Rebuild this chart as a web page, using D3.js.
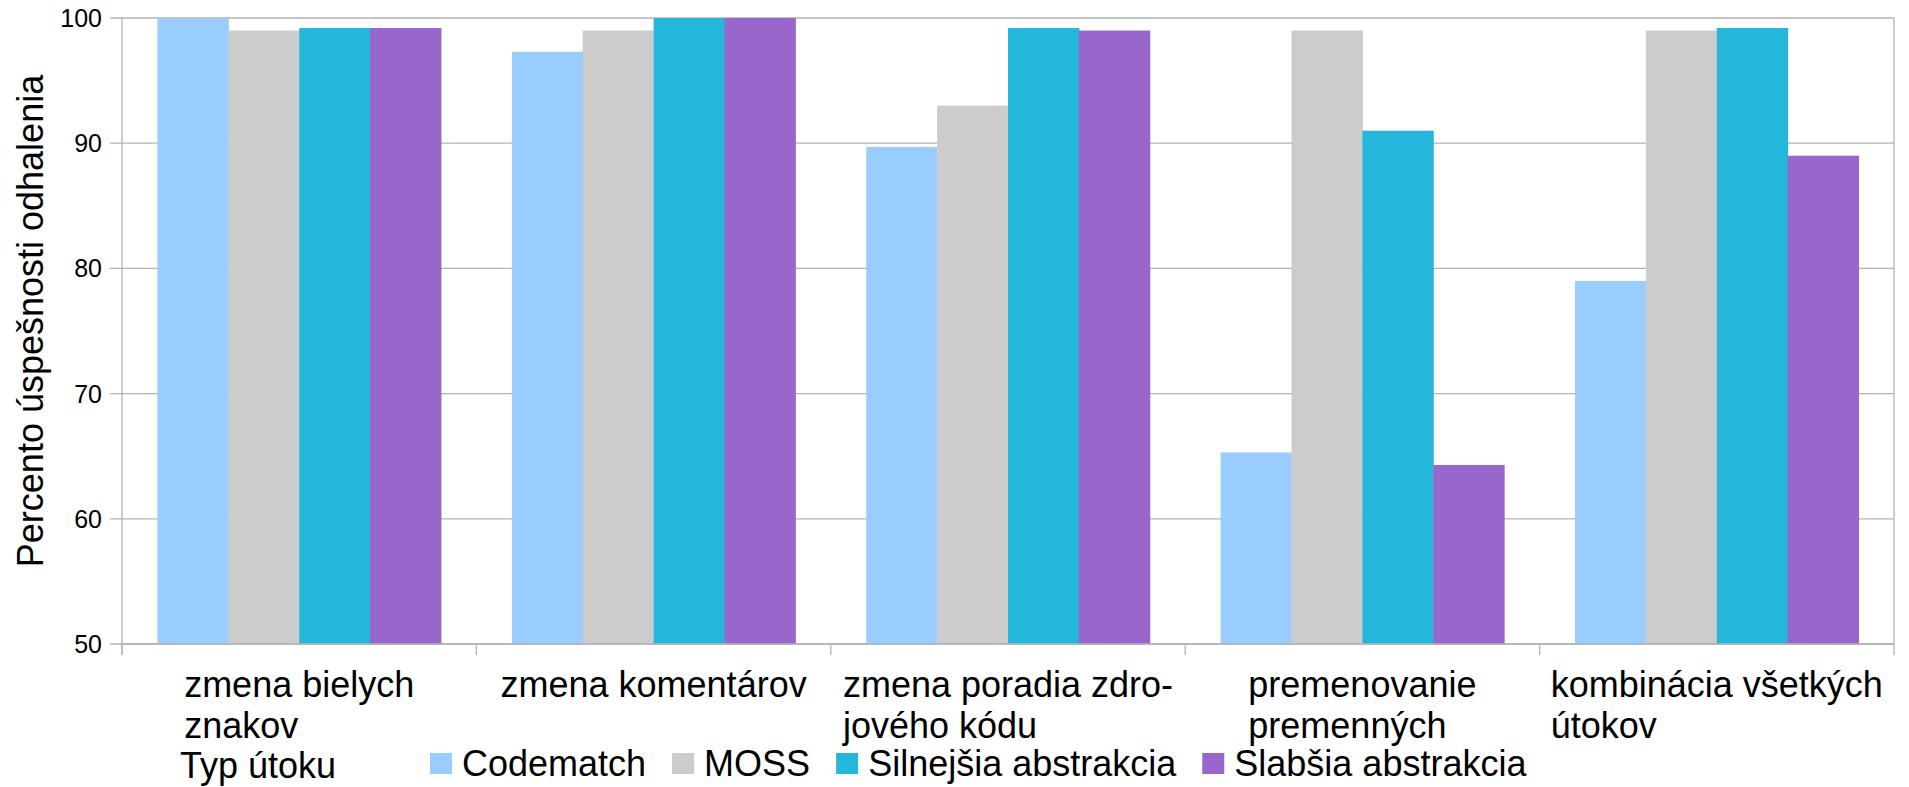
<!DOCTYPE html>
<html>
<head>
<meta charset="utf-8">
<script src="https://cdn.jsdelivr.net/npm/d3@7"></script>
<style>
  body { margin: 0; background: #fff; }
  text { font-family: "Liberation Sans", Arial, sans-serif; fill: #000; }
</style>
</head>
<body>
<svg id="chart"></svg>
<script>
// categories (each label split into its display lines)
var categories = [
  ["zmena bielych", "znakov"],
  ["zmena komentárov"],
  ["zmena poradia zdro-", "jového kódu"],
  ["premenovanie", "premenných"],
  ["kombinácia všetkých", "útokov"]
];
var seriesNames = ["Codematch", "MOSS", "Silnejšia abstrakcia", "Slabšia abstrakcia"];
var codematch = [100, 97.3, 89.7, 65.3, 79.0];
var moss      = [99.0, 99.0, 93.0, 99.0, 99.0];
var silnejsia = [99.2, 100, 99.2, 91.0, 99.2];
var slabsia   = [99.2, 100, 99.0, 64.3, 89.0];
var colors = ["#99ccff", "#cccccc", "#25b6dc", "#9966cc"];
var yTicks = [50, 60, 70, 80, 90, 100];

var width = 1909, height = 787;
var plotLeft = 122, plotRight = 1894, plotTop = 18, plotBottom = 644;
var gridColor = "#b3b3b3";

var svg = d3.select("#chart").attr("width", width).attr("height", height);

var series = [codematch, moss, silnejsia, slabsia];
var keys = categories.map(function(d, i) { return i; });

var x = d3.scaleBand().domain(keys).range([plotLeft, plotRight]).paddingInner(0.2).paddingOuter(0.1);
var xSub = d3.scaleBand().domain(d3.range(series.length)).range([0, x.bandwidth()]);
var y = d3.scaleLinear().domain([50, 100]).range([plotBottom, plotTop]);

// grid lines
svg.append("g").selectAll("line")
  .data(yTicks)
  .enter().append("line")
  .attr("x1", plotLeft - 12).attr("x2", plotRight)
  .attr("y1", function(d) { return y(d); }).attr("y2", function(d) { return y(d); })
  .attr("stroke", gridColor).attr("stroke-width", 1.3);

// plot border on the right
svg.append("line")
  .attr("x1", plotRight).attr("x2", plotRight).attr("y1", plotTop).attr("y2", plotBottom)
  .attr("stroke", gridColor).attr("stroke-width", 1.3);

// bars
var groups = svg.append("g").selectAll("g")
  .data(keys)
  .enter().append("g")
  .attr("transform", function(d) { return "translate(" + x(d) + ",0)"; });

groups.selectAll("rect")
  .data(function(c) { return series.map(function(s, i) { return { i: i, v: s[c] }; }); })
  .enter().append("rect")
  .attr("x", function(d) { return xSub(d.i); })
  .attr("width", xSub.bandwidth() + 0.5)
  .attr("y", function(d) { return y(d.v); })
  .attr("height", function(d) { return plotBottom - y(d.v); })
  .attr("fill", function(d) { return colors[d.i]; });

// axes lines
svg.append("line")
  .attr("x1", plotLeft).attr("x2", plotLeft).attr("y1", plotTop).attr("y2", plotBottom + 11)
  .attr("stroke", gridColor).attr("stroke-width", 1.3);
svg.append("line")
  .attr("x1", plotLeft).attr("x2", plotRight).attr("y1", plotBottom).attr("y2", plotBottom)
  .attr("stroke", gridColor).attr("stroke-width", 1.3);

// category tick marks
var boundaries = d3.range(categories.length + 1).map(function(i) {
  return plotLeft + i * (plotRight - plotLeft) / categories.length;
});
svg.append("g").selectAll("line")
  .data(boundaries)
  .enter().append("line")
  .attr("x1", function(d) { return d; }).attr("x2", function(d) { return d; })
  .attr("y1", plotBottom).attr("y2", plotBottom + 11)
  .attr("stroke", gridColor).attr("stroke-width", 1.3);

// y tick labels
svg.append("g").selectAll("text")
  .data(yTicks)
  .enter().append("text")
  .attr("x", 102)
  .attr("y", function(d) { return y(d) + 9; })
  .attr("text-anchor", "end")
  .style("font-size", "25px")
  .text(function(d) { return d; });

// category labels: block centered, lines left aligned
keys.forEach(function(c) {
  var g = svg.append("g");
  var texts = g.selectAll("text")
    .data(categories[c])
    .enter().append("text")
    .attr("y", function(d, i) { return 697 + i * 40.5; })
    .style("font-size", "36px")
    .text(function(d) { return d; });
  var maxW = 0;
  texts.each(function() { maxW = Math.max(maxW, this.getComputedTextLength()); });
  var cx = x(c) + x.bandwidth() / 2;
  texts.attr("x", cx - maxW / 2);
});

// axis titles
svg.append("text")
  .attr("transform", "translate(43," + ((plotTop + plotBottom) / 2 - 10) + ") rotate(-90)")
  .attr("text-anchor", "middle")
  .style("font-size", "36px")
  .text("Percento úspešnosti odhalenia");

svg.append("text")
  .attr("x", 180).attr("y", 778)
  .style("font-size", "36px")
  .text("Typ útoku");

// legend
var lx = 430;
seriesNames.forEach(function(name, i) {
  svg.append("rect")
    .attr("x", lx).attr("y", 753).attr("width", 22).attr("height", 21)
    .attr("fill", colors[i]);
  var t = svg.append("text")
    .attr("x", lx + 32).attr("y", 776)
    .style("font-size", "36px")
    .text(name);
  lx += 32 + t.node().getComputedTextLength() + 26;
});
</script>
</body>
</html>
